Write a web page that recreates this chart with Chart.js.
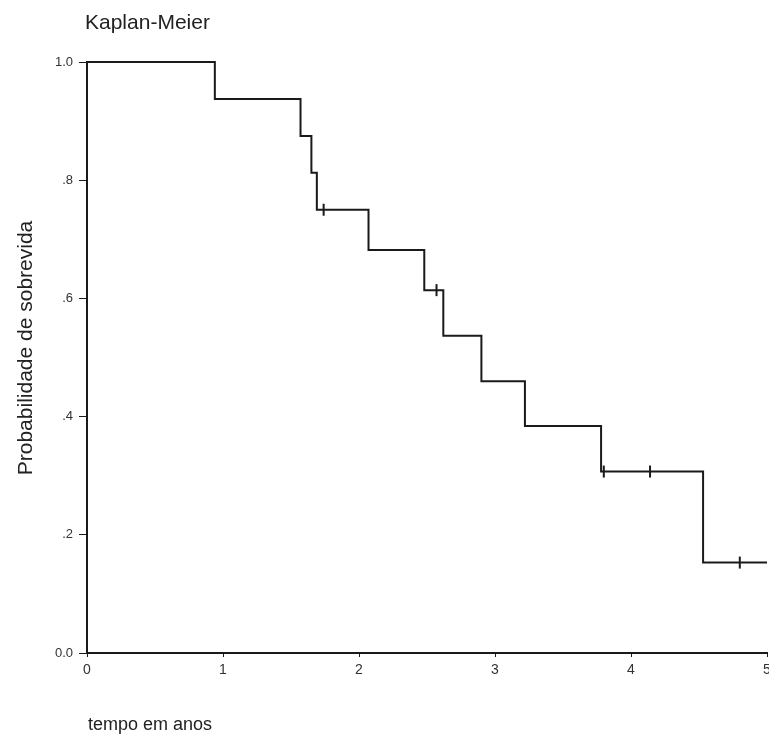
<!DOCTYPE html>
<html>
<head>
<meta charset="utf-8">
<script src="https://cdn.jsdelivr.net/npm/chart.js@4/dist/chart.umd.min.js"></script>
<style>
  html, body { margin: 0; padding: 0; background: #fff; }
  canvas { display: block; }
</style>
</head>
<body>
<canvas id="kmChart" width="769" height="738"></canvas>
<script>
// Kaplan-Meier estimate
const eventTimes = [0.94, 1.57, 1.65, 1.69, 2.07, 2.48, 2.62, 2.90, 3.22, 3.78, 4.53];
const survival = [1.0, 0.9375, 0.875, 0.8125, 0.75, 0.682, 0.614, 0.537, 0.460, 0.384, 0.307, 0.153];
const endTime = 5.0;

// censored cases (tick marks)
const censorTimes = [1.74, 2.57, 3.80, 4.14, 4.80];
const censorSurv = [0.75, 0.614, 0.307, 0.307, 0.153];

const xTicks = [0, 1, 2, 3, 4, 5];
const yTicks = [0, 0.2, 0.4, 0.6, 0.8, 1.0];

const chartTitle = 'Kaplan-Meier';
const xTitle = 'tempo em anos';
const yTitle = 'Probabilidade de sobrevida';

const INK = '#1a1a1a';
const FONT = '"Liberation Sans", Arial, sans-serif';

// step points: start at (0, 1), drop at every event, run on to the end
const stepData = [{ x: 0, y: survival[0] }];
eventTimes.forEach((t, i) => stepData.push({ x: t, y: survival[i + 1] }));
stepData.push({ x: endTime, y: survival[survival.length - 1] });

const censorData = censorTimes.map((t, i) => ({ x: t, y: censorSurv[i] }));

function yLabel(v) {
    const s = v.toFixed(1);
    if (v === 0 || v === 1) return s;
    return s.replace(/^0/, '');
}

// texts outside the axes, placed like the original
const textPlugin = {
    id: 'kmTexts',
    afterDraw(chart) {
        const ctx = chart.ctx;
        ctx.save();
        ctx.fillStyle = '#222';
        ctx.textBaseline = 'alphabetic';

        ctx.font = '21px ' + FONT;
        ctx.textAlign = 'left';
        ctx.fillText(chartTitle, 85, 29);

        ctx.font = '18px ' + FONT;
        ctx.fillText(xTitle, 88, 730);

        ctx.font = '21px ' + FONT;
        ctx.translate(32, 348);
        ctx.rotate(-Math.PI / 2);
        ctx.textAlign = 'center';
        ctx.fillText(yTitle, 0, 0);
        ctx.restore();
    }
};

new Chart(document.getElementById('kmChart'), {
    type: 'scatter',
    data: {
        datasets: [
            {
                label: 'survival',
                data: stepData,
                showLine: true,
                stepped: 'before',
                borderColor: INK,
                borderWidth: 2,
                pointRadius: 0,
                fill: false,
                clip: false
            },
            {
                label: 'censored',
                data: censorData,
                showLine: false,
                pointStyle: 'line',
                rotation: 90,
                pointRadius: 6,
                borderColor: INK,
                borderWidth: 2,
                clip: false
            }
        ]
    },
    options: {
        responsive: false,
        animation: false,
        layout: { autoPadding: false, padding: { top: 62, right: 2, left: 0, bottom: 0 } },
        plugins: {
            legend: { display: false },
            tooltip: { enabled: false }
        },
        scales: {
            x: {
                type: 'linear',
                min: 0,
                max: 5,
                afterBuildTicks: (scale) => { scale.ticks = xTicks.map(v => ({ value: v })); },
                ticks: {
                    color: '#333',
                    font: { family: FONT, size: 14 },
                    padding: 5,
                    maxRotation: 0,
                    autoSkip: false
                },
                grid: { drawOnChartArea: false, drawTicks: true, tickLength: 4, color: INK, lineWidth: 1 },
                border: { display: true, color: INK, width: 2 },
                afterFit: (scale) => {
                    scale.height = 85;
                    scale.paddingLeft = 0;
                    scale.paddingRight = 0;
                }
            },
            y: {
                type: 'linear',
                min: 0,
                max: 1,
                afterBuildTicks: (scale) => { scale.ticks = yTicks.map(v => ({ value: v })); },
                ticks: {
                    color: '#333',
                    font: { family: FONT, size: 13 },
                    padding: 6,
                    callback: (v) => yLabel(v)
                },
                grid: { drawOnChartArea: false, drawTicks: true, tickLength: 8, color: INK, lineWidth: 1 },
                border: { display: true, color: INK, width: 2 },
                afterFit: (scale) => {
                    scale.width = 87;
                    scale.paddingTop = 0;
                    scale.paddingBottom = 0;
                }
            }
        }
    },
    plugins: [textPlugin]
});
</script>
</body>
</html>
